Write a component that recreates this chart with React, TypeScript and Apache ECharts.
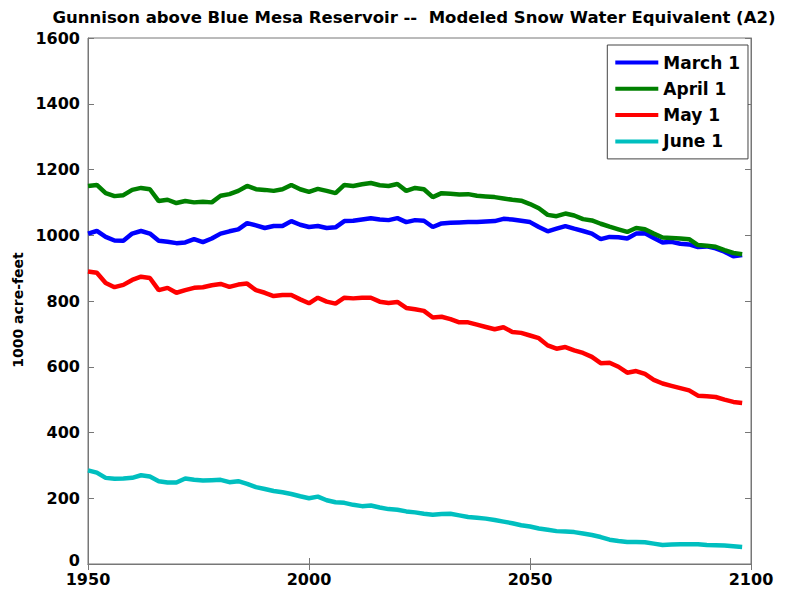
import React, { useEffect, useRef } from "react";
import * as echarts from "echarts";

const years = [
  1950, 1952, 1954, 1956, 1958, 1960, 1962, 1964, 1966, 1968, 1970, 1972, 1974, 1976, 1978,
  1980, 1982, 1984, 1986, 1988, 1990, 1992, 1994, 1996, 1998, 2000, 2002, 2004, 2006, 2008,
  2010, 2012, 2014, 2016, 2018, 2020, 2022, 2024, 2026, 2028, 2030, 2032, 2034, 2036, 2038,
  2040, 2042, 2044, 2046, 2048, 2050, 2052, 2054, 2056, 2058, 2060, 2062, 2064, 2066, 2068,
  2070, 2072, 2074, 2076, 2078, 2080, 2082, 2084, 2086, 2088, 2090, 2092, 2094, 2096, 2098,
];

const march1 = [
  1005, 1013, 995, 984, 983, 1005, 1013, 1005, 983, 980, 976, 978, 988, 979, 990,
  1005, 1012, 1018, 1037, 1030, 1022, 1028, 1028, 1043, 1032, 1025, 1028, 1022, 1024, 1043,
  1044, 1048, 1052, 1048, 1046, 1052, 1040, 1046, 1044, 1025, 1036, 1038, 1039, 1040, 1040,
  1042, 1043, 1050, 1048, 1044, 1040, 1025, 1012, 1020, 1028, 1020, 1013, 1005, 988, 995,
  994, 990, 1005, 1006, 992, 978, 980, 974, 972, 964, 966, 960, 950, 936, 940,
];

const april1 = [
  1150, 1153, 1128, 1119, 1122, 1138, 1144, 1140, 1104, 1108, 1098, 1104, 1100, 1102, 1100,
  1120, 1125, 1135, 1150, 1140, 1138, 1135, 1140, 1153, 1140, 1132, 1141, 1135, 1128, 1153,
  1150, 1155, 1159, 1152, 1150, 1156, 1135, 1144, 1140, 1116, 1128, 1126, 1124, 1125, 1120,
  1118, 1116, 1112, 1108, 1105, 1095, 1082, 1062, 1058, 1066, 1060, 1049, 1045, 1035, 1026,
  1018, 1010, 1022, 1018, 1005, 993, 992, 990, 988, 970, 968, 965, 955, 946, 942,
];

const may1 = [
  890, 886, 855, 842, 849, 864, 874, 870, 833, 840, 825, 833, 840, 842, 848,
  852, 843, 850, 853, 833, 825, 815, 818, 818, 805, 793, 810, 798, 792, 810,
  808, 810, 810, 798, 794, 797, 779, 775, 770, 750, 752, 745, 735, 735, 728,
  721, 714, 720, 706, 703, 695, 687, 665, 655, 660, 650, 642, 630, 611, 612,
  600, 582, 587, 578, 560, 549, 542, 535, 528, 512, 510, 508, 500, 493, 490,
];

const june1 = [
  285, 278, 262, 259, 260, 262, 270, 266, 252, 248, 248, 260, 256, 254, 255,
  256, 249, 252, 244, 234, 228, 222, 218, 213, 206, 200, 205, 194, 188, 186,
  180, 176, 178, 172, 167, 165, 160, 157, 153, 150, 152, 153, 148, 143, 141,
  138, 134, 129, 124, 118, 114, 108, 104, 100, 99, 97, 93, 88, 82, 74,
  70, 67, 67, 66, 62, 58, 59, 60, 60, 60, 58, 57, 56, 54, 52,
];

const seriesNames = ["March 1", "April 1", "May 1", "June 1"];
const seriesColors = ["#0000ff", "#008000", "#ff0000", "#00bfbf"];
const seriesValues = [march1, april1, may1, june1];

const titleText = "Gunnison above Blue Mesa Reservoir --  Modeled Snow Water Equivalent (A2)";
const yAxisName = "1000 acre-feet";

const FONT = "'DejaVu Sans', Verdana, sans-serif";

export default function App() {
  const ref = useRef<HTMLDivElement>(null);
  useEffect(() => {
    document.body.style.margin = "0";
    const chart = echarts.init(ref.current!, null, { renderer: "svg" });
    const axisLineStyle = { color: "#777", width: 1 };
    const labelStyle = { fontFamily: FONT, fontWeight: "bold", fontSize: 16, color: "#000" };
    chart.setOption({
      animation: false,
      backgroundColor: "#fff",
      title: {
        text: titleText,
        left: 409,
        textAlign: "center",
        top: 4,
        textStyle: { fontFamily: FONT, fontWeight: "bold", fontSize: 16.5, color: "#000" },
      },
      legend: {
        orient: "vertical",
        right: 46,
        top: 45,
        data: seriesNames,
        icon: "rect",
        itemWidth: 43,
        itemHeight: 4,
        itemGap: 9.3,
        padding: [9, 8, 9, 8],
        borderColor: "#444",
        borderWidth: 1,
        backgroundColor: "#fff",
        textStyle: { fontFamily: FONT, fontWeight: "bold", fontSize: 17, color: "#000", lineHeight: 17 },
      },
      grid: { left: 88, right: 43, top: 38, bottom: 26, show: true, borderColor: "#777", borderWidth: 1 },
      xAxis: [
        {
          type: "value",
          min: 1950,
          max: 2100,
          interval: 50,
          axisLine: { show: true, lineStyle: axisLineStyle },
          axisTick: { show: true, inside: true, length: 6, lineStyle: axisLineStyle },
          axisLabel: { ...labelStyle, lineHeight: 12, margin: 9, formatter: (v: number) => String(v) },
          splitLine: { show: false },
        },
        {
          type: "value",
          position: "top",
          min: 1950,
          max: 2100,
          interval: 50,
          axisLine: { show: true, lineStyle: axisLineStyle },
          axisTick: { show: true, inside: true, length: 6, lineStyle: axisLineStyle },
          axisLabel: { show: false },
          splitLine: { show: false },
        },
      ],
      yAxis: [
        {
          type: "value",
          min: 0,
          max: 1600,
          interval: 200,
          name: yAxisName,
          nameLocation: "middle",
          nameGap: 61,
          nameTextStyle: { fontFamily: FONT, fontWeight: "bold", fontSize: 14, color: "#000", padding: [0, 18, 0, 0] },
          axisLine: { show: true, lineStyle: axisLineStyle },
          axisTick: { show: true, inside: true, length: 6, lineStyle: axisLineStyle },
          axisLabel: {
            ...labelStyle,
            lineHeight: 12,
            margin: 8,
            formatter: (v: number) => (v === 0 ? "{z|0}" : String(v)),
            rich: {
              z: { ...labelStyle, lineHeight: 12, padding: [0, 0, 8, 0] },
            },
          },
          splitLine: { show: false },
        },
        {
          type: "value",
          position: "right",
          min: 0,
          max: 1600,
          interval: 200,
          axisLine: { show: true, lineStyle: axisLineStyle },
          axisTick: { show: true, inside: true, length: 6, lineStyle: axisLineStyle },
          axisLabel: { show: false },
          splitLine: { show: false },
        },
      ],
      series: seriesNames.map((name, k) => ({
        name,
        type: "line",
        xAxisIndex: 0,
        yAxisIndex: 0,
        showSymbol: false,
        symbol: "none",
        smooth: false,
        data: years.map((yr, i) => [yr, seriesValues[k][i]]),
        lineStyle: { color: seriesColors[k], width: 4.5 },
        itemStyle: { color: seriesColors[k] },
      })),
    });
    return () => chart.dispose();
  }, []);
  return <div ref={ref} style={{ position: "absolute", left: 0, top: 0, width: 794, height: 590 }} />;
}
